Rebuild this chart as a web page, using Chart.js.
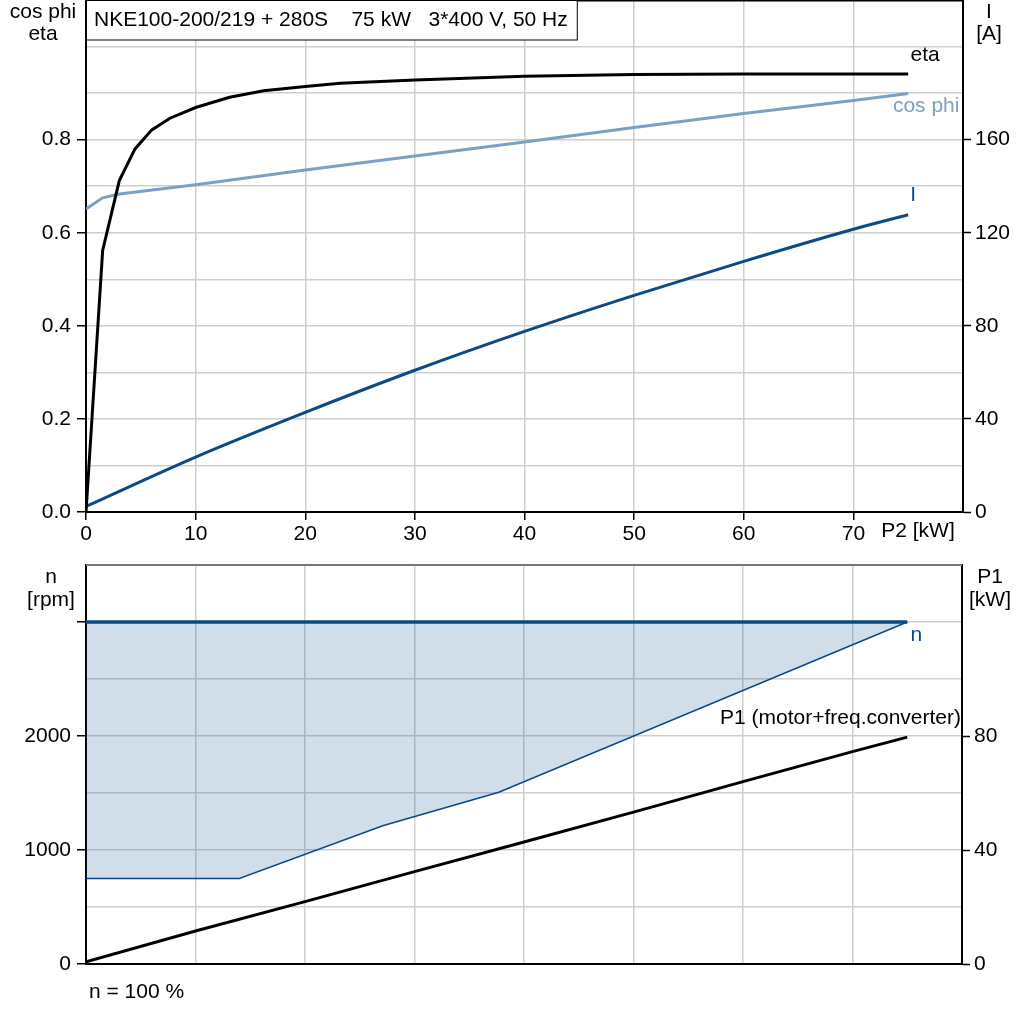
<!DOCTYPE html>
<html><head><meta charset="utf-8">
<script src="https://cdn.jsdelivr.net/npm/chart.js@4.4.0/dist/chart.umd.min.js"></script>
<style>
html,body{margin:0;padding:0;background:#fff;width:1024px;height:1024px;overflow:hidden}
#c1{position:absolute;left:0;top:0}
#c2{position:absolute;left:0;top:545px}
</style></head><body>
<canvas id="c1" width="1024" height="556"></canvas>
<canvas id="c2" width="1024" height="479"></canvas>
<script>
const FONT = "'Liberation Sans', Arial, sans-serif";
const FS = 21;
const TITLE = 'NKE100-200/219 + 280S    75 kW   3*400 V, 50 Hz';

// ---- top chart data ----
const p2Ticks = [0, 10, 20, 30, 40, 50, 60, 70, 80];
const ratioGrid = [0, 0.1, 0.2, 0.3, 0.4, 0.5, 0.6, 0.7, 0.8, 0.9, 1.0];
const ratioLabels = [0, 0.2, 0.4, 0.6, 0.8];
const ampTicks = [0, 40, 80, 120, 160];

const etaP2 = [0, 1.52, 3.04, 4.47, 6.0, 7.66, 10, 13.1, 16.2, 20, 23.2, 30, 40, 50, 60, 75];
const etaVal = [0, 0.562, 0.712, 0.780, 0.821, 0.846, 0.869, 0.891, 0.905, 0.914, 0.921, 0.928, 0.936, 0.940, 0.941, 0.941];

const cosP2 = [0, 1.52, 3.04, 10, 20, 30, 40, 50, 60, 70, 75];
const cosVal = [0.651, 0.675, 0.683, 0.703, 0.735, 0.765, 0.795, 0.826, 0.856, 0.884, 0.899];

const curP2 = [0, 10, 20, 30, 40, 50, 60, 70, 75];
const curVal = [2.4, 23.6, 42.8, 60.9, 77.6, 93.1, 107.7, 121.5, 127.7];

// ---- bottom chart data ----
const rpmGrid = [0, 500, 1000, 1500, 2000, 2500, 3000];
const rpmLabels = [0, 1000, 2000];
const rpmTickMarks = [0, 1000, 2000, 3000];
const kwTicks = [0, 40, 80];

const nP2 = [0, 14, 27.1, 37.7, 75];
const nMaxVal = [3000, 3000, 3000, 3000, 3000];
const nMinVal = [750, 750, 1213, 1506, 3000];

const p1P2 = [0, 10, 20, 30, 40, 50, 60, 70, 75];
const p1Val = [0.8, 11.6, 21.9, 32.4, 42.8, 53.3, 64, 74.5, 79.6];

const C_DARK = '#0b4a84';
const C_LIGHT = '#7aa0c4';
const C_GRID = '#cfcfcf';
const C_FILL = 'rgba(11,74,132,0.19)';

Chart.defaults.font.family = FONT;
Chart.defaults.font.size = FS;
Chart.defaults.color = '#000';

const pts = (xs, ys) => xs.map((x, i) => ({x: x, y: ys[i]}));
const setTicks = arr => s => { s.ticks = arr.map(v => ({value: v})); };
const fitW = w => s => { s.width = w; s.paddingTop = 0; s.paddingBottom = 0; s.paddingLeft = 0; s.paddingRight = 0; };
const fitH = h => s => { s.height = h; s.paddingTop = 0; s.paddingBottom = 0; s.paddingLeft = 0; s.paddingRight = 0; };

function txt(ctx, s, x, y, align, color) {
  ctx.save();
  ctx.font = FS + 'px ' + FONT;
  ctx.fillStyle = color || '#000';
  ctx.textAlign = align || 'center';
  ctx.textBaseline = 'middle';
  ctx.fillText(s, x, y);
  ctx.restore();
}

const topDeco = {
  id: 'topDeco',
  afterDraw(chart) {
    const ctx = chart.ctx, a = chart.chartArea;
    const xs = chart.scales.x, yl = chart.scales.yL, yr = chart.scales.yR;
    ctx.save();
    ctx.strokeStyle = '#000'; ctx.lineWidth = 1.5;
    ctx.beginPath(); ctx.moveTo(a.left, a.top + 0.75); ctx.lineTo(a.right, a.top + 0.75); ctx.stroke();
    // title box
    ctx.font = FS + 'px ' + FONT;
    const tw = ctx.measureText(TITLE).width;
    ctx.fillStyle = '#fff';
    ctx.fillRect(a.left, a.top, tw + 17, 40);
    ctx.lineWidth = 1;
    ctx.strokeRect(a.left + 0.5, a.top + 0.5, tw + 17, 39.5);
    ctx.restore();
    txt(ctx, TITLE, a.left + 8, a.top + 20, 'left');
    // axis titles
    txt(ctx, 'cos phi', 43, 12);
    txt(ctx, 'eta', 43, 34);
    txt(ctx, 'I', 989, 12);
    txt(ctx, '[A]', 989, 34);
    txt(ctx, 'P2 [kW]', 918, 531);
    // series labels
    const ex = xs.getPixelForValue(etaP2[etaP2.length - 1]);
    txt(ctx, 'eta', ex + 17, yl.getPixelForValue(etaVal[etaVal.length - 1]) - 19);
    const cx = xs.getPixelForValue(cosP2[cosP2.length - 1]);
    txt(ctx, 'cos phi', cx + 18, yl.getPixelForValue(cosVal[cosVal.length - 1]) + 13, 'center', C_LIGHT);
    const ix = xs.getPixelForValue(curP2[curP2.length - 1]);
    txt(ctx, 'I', ix + 5, yr.getPixelForValue(curVal[curVal.length - 1]) - 20, 'center', C_DARK);
  }
};

new Chart(document.getElementById('c1'), {
  type: 'line',
  data: {
    datasets: [
      {data: pts(etaP2, etaVal), yAxisID: 'yL', borderColor: '#000', borderWidth: 3, pointRadius: 0, tension: 0, fill: false},
      {data: pts(cosP2, cosVal), yAxisID: 'yL', borderColor: C_LIGHT, borderWidth: 3, pointRadius: 0, tension: 0, fill: false},
      {data: pts(curP2, curVal), yAxisID: 'yR', borderColor: C_DARK, borderWidth: 3, pointRadius: 0, cubicInterpolationMode: 'monotone', fill: false}
    ]
  },
  options: {
    responsive: false, animation: false, devicePixelRatio: 1,
    layout: {padding: 0},
    plugins: {legend: {display: false}, tooltip: {enabled: false}},
    scales: {
      x: {
        type: 'linear', min: 0, max: 80,
        afterBuildTicks: setTicks(p2Ticks), afterFit: fitH(44),
        ticks: {padding: 2, maxRotation: 0, autoSkip: false, callback: v => v === 80 ? '' : String(v)},
        grid: {color: C_GRID, lineWidth: 1.5, tickLength: 8, tickColor: c => c.tick && c.tick.value === 80 ? 'transparent' : '#000', tickWidth: 1.5},
        border: {color: '#000', width: 2}
      },
      yL: {
        type: 'linear', position: 'left', min: 0, max: 1.1,
        afterBuildTicks: setTicks(ratioGrid), afterFit: fitW(86),
        ticks: {padding: 6, autoSkip: false, callback: v => ratioLabels.includes(v) ? v.toFixed(1) : ''},
        grid: {color: C_GRID, lineWidth: 1.5, tickLength: 9, tickWidth: 1.5, tickColor: c => c.tick && ratioLabels.includes(c.tick.value) ? '#000' : 'transparent'},
        border: {color: '#000', width: 2}
      },
      yR: {
        type: 'linear', position: 'right', min: 0, max: 220,
        afterBuildTicks: setTicks(ampTicks), afterFit: fitW(61),
        ticks: {padding: 4, autoSkip: false},
        grid: {drawOnChartArea: false, tickLength: 8, tickWidth: 1.5, tickColor: '#000'},
        border: {color: '#000', width: 2}
      }
    }
  },
  plugins: [topDeco]
});

const botDeco = {
  id: 'botDeco',
  afterDraw(chart) {
    const ctx = chart.ctx, a = chart.chartArea;
    const xs = chart.scales.x, yl = chart.scales.yL, yr = chart.scales.yR;
    ctx.save();
    ctx.strokeStyle = '#777'; ctx.lineWidth = 2;
    ctx.beginPath(); ctx.moveTo(a.left, a.top); ctx.lineTo(a.right, a.top); ctx.stroke();
    ctx.restore();
    txt(ctx, 'n', 51, a.top + 12);
    txt(ctx, '[rpm]', 51, a.top + 35);
    txt(ctx, 'P1', 990, a.top + 12);
    txt(ctx, '[kW]', 990, a.top + 35);
    const nx = xs.getPixelForValue(nP2[nP2.length - 1]);
    txt(ctx, 'n', nx + 9, yl.getPixelForValue(nMaxVal[nMaxVal.length - 1]) + 13, 'center', C_DARK);
    txt(ctx, 'P1 (motor+freq.converter)', a.right - 1, yr.getPixelForValue(p1Val[p1Val.length - 1]) - 19, 'right');
    txt(ctx, 'n = 100 %', a.left + 3, a.bottom + 28, 'left');
  }
};

new Chart(document.getElementById('c2'), {
  type: 'line',
  data: {
    datasets: [
      {data: pts(nP2, nMaxVal), yAxisID: 'yL', borderColor: C_DARK, borderWidth: 3.5, pointRadius: 0, tension: 0, fill: false},
      {data: pts(nP2, nMinVal), yAxisID: 'yL', borderColor: C_DARK, borderWidth: 1.5, pointRadius: 0, tension: 0, fill: '-1', backgroundColor: C_FILL},
      {data: pts(p1P2, p1Val), yAxisID: 'yR', borderColor: '#000', borderWidth: 3, pointRadius: 0, tension: 0, fill: false}
    ]
  },
  options: {
    responsive: false, animation: false, devicePixelRatio: 1,
    layout: {padding: {top: 20, left: 0, right: 0, bottom: 0}},
    plugins: {legend: {display: false}, tooltip: {enabled: false}, filler: {propagate: false}},
    scales: {
      x: {
        type: 'linear', min: 0, max: 80,
        afterBuildTicks: setTicks(p2Ticks), afterFit: fitH(60),
        ticks: {display: false},
        grid: {color: C_GRID, lineWidth: 1.5, drawTicks: false},
        border: {color: '#000', width: 2}
      },
      yL: {
        type: 'linear', position: 'left', min: 0, max: 3500,
        afterBuildTicks: setTicks(rpmGrid), afterFit: fitW(86),
        ticks: {padding: 6, autoSkip: false, callback: v => rpmLabels.includes(v) ? String(v) : ''},
        grid: {color: C_GRID, lineWidth: 1.5, tickLength: 9, tickWidth: 1.5, tickColor: c => c.tick && rpmTickMarks.includes(c.tick.value) ? '#000' : 'transparent'},
        border: {color: '#000', width: 2}
      },
      yR: {
        type: 'linear', position: 'right', min: 0, max: 140,
        afterBuildTicks: setTicks(kwTicks), afterFit: fitW(62),
        ticks: {padding: 4, autoSkip: false},
        grid: {drawOnChartArea: false, tickLength: 8, tickWidth: 1.5, tickColor: '#000'},
        border: {color: '#000', width: 2}
      }
    }
  },
  plugins: [botDeco]
});
</script>
</body></html>
